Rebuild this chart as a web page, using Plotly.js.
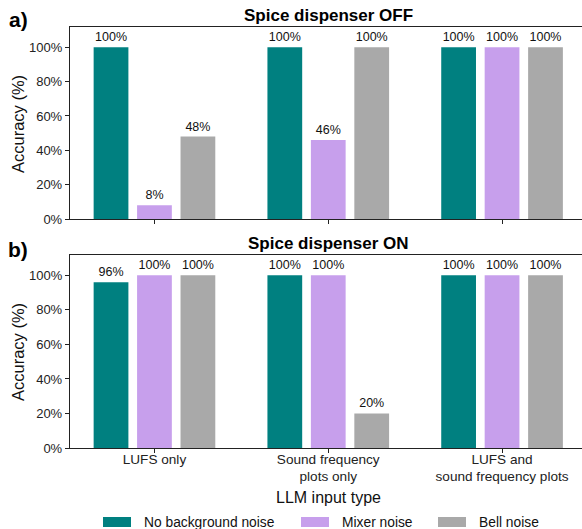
<!DOCTYPE html>
<html><head><meta charset="utf-8">
<script src="https://cdn.plot.ly/plotly-3.0.1.min.js"></script>
<style>html,body{margin:0;padding:0;background:#fff}#chart{width:582px;height:529px}</style>
</head><body><div id="chart"></div>
<script>
const categories = ["LUFS only", "Sound frequency<br>plots only", "LUFS and<br>sound frequency plots"];
const seriesNames = ["No background noise", "Mixer noise", "Bell noise"];
const colors = ["#008080", "#C79FEC", "#A9A9A9"];
const offNoBg = [100, 100, 100];
const offMixer = [8, 46, 100];
const offBell = [48, 100, 100];
const onNoBg = [96, 100, 100];
const onMixer = [100, 100, 100];
const onBell = [100, 20, 100];
const yTicks = [0, 20, 40, 60, 80, 100];

const W = 582, H = 529, L = 70, R = 0;
const pw = W - L - R;
function py(px){ return 1 - px / H; }
function pxx(px){ return (px - L) / pw; }

const font = "Liberation Sans, Arial, sans-serif";
function mk(vals, i, xa, ya){
  return {type:'bar', x:[0,1,2], y:vals, name:seriesNames[i], xaxis:xa, yaxis:ya,
    marker:{color:colors[i]}, showlegend:false,
    text:vals.map(v=>v+'%'), textposition:'outside', cliponaxis:false, constraintext:'none',
    textfont:{size:12.5, color:'#111', family:font}, hoverinfo:'y'};
}
const data = [
  mk(offNoBg,0,'x','y'), mk(offMixer,1,'x','y'), mk(offBell,2,'x','y'),
  mk(onNoBg,0,'x2','y2'), mk(onMixer,1,'x2','y2'), mk(onBell,2,'x2','y2')
];
const xr = [-0.486, 2.46];
function xax(labels){
  return {range:xr, domain:[0,1], showline:true, linecolor:'#222', linewidth:1.2, mirror:true,
    ticks:'outside', ticklen:4, tickcolor:'#222', tickvals:[0,1,2], ticktext:labels?categories:['','',''],
    ticklabelstandoff:-6,
    showgrid:false, zeroline:false, tickfont:{size:13.6, family:font, color:'#222'}};
}
function yax(dom, anchor){
  return {range:[0,111.8], domain:dom, anchor:anchor, showline:true, linecolor:'#222', linewidth:1.2, mirror:true,
    ticks:'outside', ticklen:4, tickcolor:'#222', tickvals:yTicks, ticktext:yTicks.map(v=>v+'%'),
    showgrid:false, zeroline:false, tickfont:{size:13, family:font, color:'#222'}};
}
function ann(text, x, y, size, extra){
  return Object.assign({text:text, xref:'paper', yref:'paper', x:pxx(x), y:py(y), xanchor:'center', yanchor:'middle',
    showarrow:false, font:{size:size, family:font, color:'#111'}}, extra||{});
}
// manual legend (swatch left px, text left px)
const legSw = [103, 301, 438];
const shapes = [], legAnn = [];
seriesNames.forEach((n, i) => {
  shapes.push({type:'rect', xref:'paper', yref:'paper', x0:pxx(legSw[i]), x1:pxx(legSw[i]+28), y0:py(527), y1:py(517),
    fillcolor:colors[i], line:{width:0}});
  legAnn.push({text:n, xref:'paper', yref:'paper', x:pxx(legSw[i]+39), y:py(522.5), xanchor:'left', yanchor:'middle',
    showarrow:false, font:{size:13.8, family:font, color:'#111'}});
});
const layout = {
  width:W, height:H, margin:{l:L, r:R, t:0, b:0}, paper_bgcolor:'#fff', plot_bgcolor:'#fff',
  font:{family:font, color:'#222'},
  barmode:'group', bargap:0.25, bargroupgap:0.2,
  xaxis:Object.assign(xax(false), {anchor:'y'}),
  yaxis:yax([py(219), py(27)], 'x'),
  xaxis2:Object.assign(xax(true), {anchor:'y2'}),
  yaxis2:yax([py(448), py(255)], 'x2'),
  showlegend:false,
  shapes:shapes,
  annotations:[
    ann('<b>Spice dispenser OFF</b>', 328, 15, 17, {font:{size:17, family:font, color:'#000'}}),
    ann('<b>Spice dispenser ON</b>', 328, 244, 17, {font:{size:17, family:font, color:'#000'}}),
    ann('<b>a)</b>', 18, 19, 21, {font:{size:21, family:font, color:'#000'}}),
    ann('<b>b)</b>', 18, 249, 21, {font:{size:21, family:font, color:'#000'}}),
    ann('Accuracy (%)', 18, 124, 16.5, {textangle:-90}),
    ann('Accuracy (%)', 18, 352, 16.5, {textangle:-90}),
    ann('LLM input type', 328, 497, 16)
  ].concat(legAnn)
};
Plotly.newPlot('chart', data, layout, {displayModeBar:false, staticPlot:true});
</script></body></html>
